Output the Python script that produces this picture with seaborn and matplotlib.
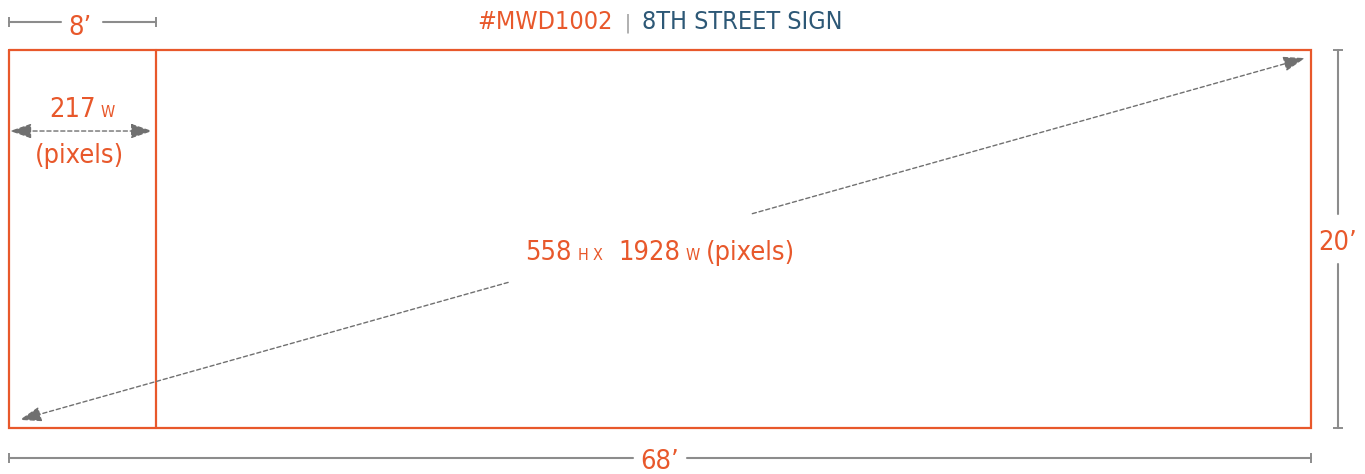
import matplotlib
matplotlib.use("Agg")
import matplotlib.pyplot as plt
import seaborn as sns
from matplotlib import font_manager as fm
from matplotlib.transforms import offset_copy

# Sign data (pixels and feet)
sign_w_px = 1928
sign_h_px = 558
panel_w_px = 217
sign_w_ft = 68
sign_h_ft = 20
panel_w_ft = 8
sign_code = "#MWD1002"
sign_name = "8TH STREET SIGN"

ORANGE = "#E8582B"
BLUE = "#2D5876"
GRAY = "#8C8C8C"
DARK = "#707070"

sns.set_theme(style="white")
names = {f.name for f in fm.fontManager.ttflist}
if "Liberation Sans Narrow" in names:
    FAMILY, STRETCH = "Liberation Sans Narrow", "normal"
else:
    FAMILY, STRETCH = "DejaVu Sans", "condensed"
plt.rcParams["font.family"] = [FAMILY, "DejaVu Sans"]
plt.rcParams["font.stretch"] = STRETCH

BIG = 19.5
SMALL = 11.5

fig = plt.figure(figsize=(13.65, 4.74), dpi=100)
ax = fig.add_axes([0, 0, 1, 1])
ax.set_xlim(-13.33, 2008)
ax.set_ylim(625.9, -73.8)
ax.axis("off")

# --------------------------------------------------
# sign outline + first panel
# --------------------------------------------------
sns.lineplot(x=[0, sign_w_px, sign_w_px, 0, 0],
             y=[0, 0, sign_h_px, sign_h_px, 0],
             sort=False, estimator=None, color=ORANGE, lw=1.6, ax=ax)
sns.lineplot(x=[panel_w_px, panel_w_px], y=[0, sign_h_px],
             sort=False, estimator=None, color=ORANGE, lw=1.6, ax=ax)
for ln in ax.lines:
    ln.set_solid_joinstyle("miter")


def dim_line(a, b, fixed, gap, horizontal=True):
    mid = (a + b) / 2
    for s0, s1 in [(a, mid - gap), (mid + gap, b)]:
        if horizontal:
            ax.plot([s0, s1], [fixed, fixed], color=GRAY, lw=1.5)
        else:
            ax.plot([fixed, fixed], [s0, s1], color=GRAY, lw=1.5)
    if horizontal:
        ax.plot([a, b], [fixed, fixed], ls="none", marker="|", ms=7,
                mew=1.4, color=GRAY)
    else:
        ax.plot([fixed, fixed], [a, b], ls="none", marker="_", ms=7,
                mew=1.4, color=GRAY)
    return mid


# top (panel width), bottom (sign width), right (sign height)
m = dim_line(0, panel_w_px, -41.3, 31)
ax.text(m - 3, -22, f"{panel_w_ft}\u2019", fontsize=BIG, color=ORANGE,
        ha="center", va="baseline")
m = dim_line(0, sign_w_px, 602.3, 40)
ax.text(m, 618, f"{sign_w_ft}\u2019", fontsize=BIG, color=ORANGE,
        ha="center", va="baseline")
m = dim_line(0, sign_h_px, 1968, 37, horizontal=False)
ax.text(1968, m + 16, f"{sign_h_ft}\u2019", fontsize=BIG, color=ORANGE,
        ha="center", va="baseline")


def rich_text(x, y, pieces):
    r = fig.canvas.get_renderer()
    items = []
    for s, size, color, gap in pieces:
        t = ax.text(x, y, s, fontsize=size, color=color, ha="left",
                    va="baseline")
        items.append((t, t.get_window_extent(r).width, gap))
    total = sum(w + g for _, w, g in items) - items[-1][2]
    cur = -total / 2
    for t, w, g in items:
        t.set_transform(offset_copy(ax.transData, fig=fig, x=cur, y=0,
                                    units="dots"))
        cur += w + g


# title
rich_text(sign_w_px / 2, -31, [
    (sign_code, 18, ORANGE, 12),
    ("|", 14, "#999999", 12),
    (sign_name, 18, BLUE, 0),
])

# panel label
rich_text(panel_w_px / 2, 99, [
    (str(panel_w_px), BIG, ORANGE, 5),
    ("W", SMALL, ORANGE, 0),
])
ax.text(panel_w_px / 2 - 4, 167, "(pixels)", fontsize=BIG, color=ORANGE,
        ha="center", va="baseline")

arrow_kw = dict(arrowstyle="<|-|>,head_length=1.1,head_width=0.38",
                color=DARK, lw=1.0, ls=(0, (3, 2)), shrinkA=0, shrinkB=0)
ax.annotate("", xy=(212, 119.6), xytext=(1.5, 119.6), arrowprops=arrow_kw)

# centre label with diagonal arrow
rich_text(sign_w_px / 2, 310, [
    (str(sign_h_px), BIG, ORANGE, 6),
    ("H", SMALL, ORANGE, 5),
    ("X", SMALL, ORANGE, 16),
    (str(sign_w_px), BIG, ORANGE, 5),
    ("W", SMALL, ORANGE, 6),
    ("(pixels)", BIG, ORANGE, 0),
])

p0 = (16, sign_h_px - 12)
p1 = (sign_w_px - 9, 12)


def along(t):
    return (p0[0] + (p1[0] - p0[0]) * t, p0[1] + (p1[1] - p0[1]) * t)


diag_kw = dict(arrowstyle="-|>,head_length=1.1,head_width=0.38",
               color=DARK, lw=1.0, ls=(0, (3, 2)), shrinkA=0, shrinkB=0)
ax.annotate("", xy=p0, xytext=along(0.38), arrowprops=diag_kw)
ax.annotate("", xy=p1, xytext=along(0.57), arrowprops=diag_kw)

plt.savefig("out.png", dpi=100)
